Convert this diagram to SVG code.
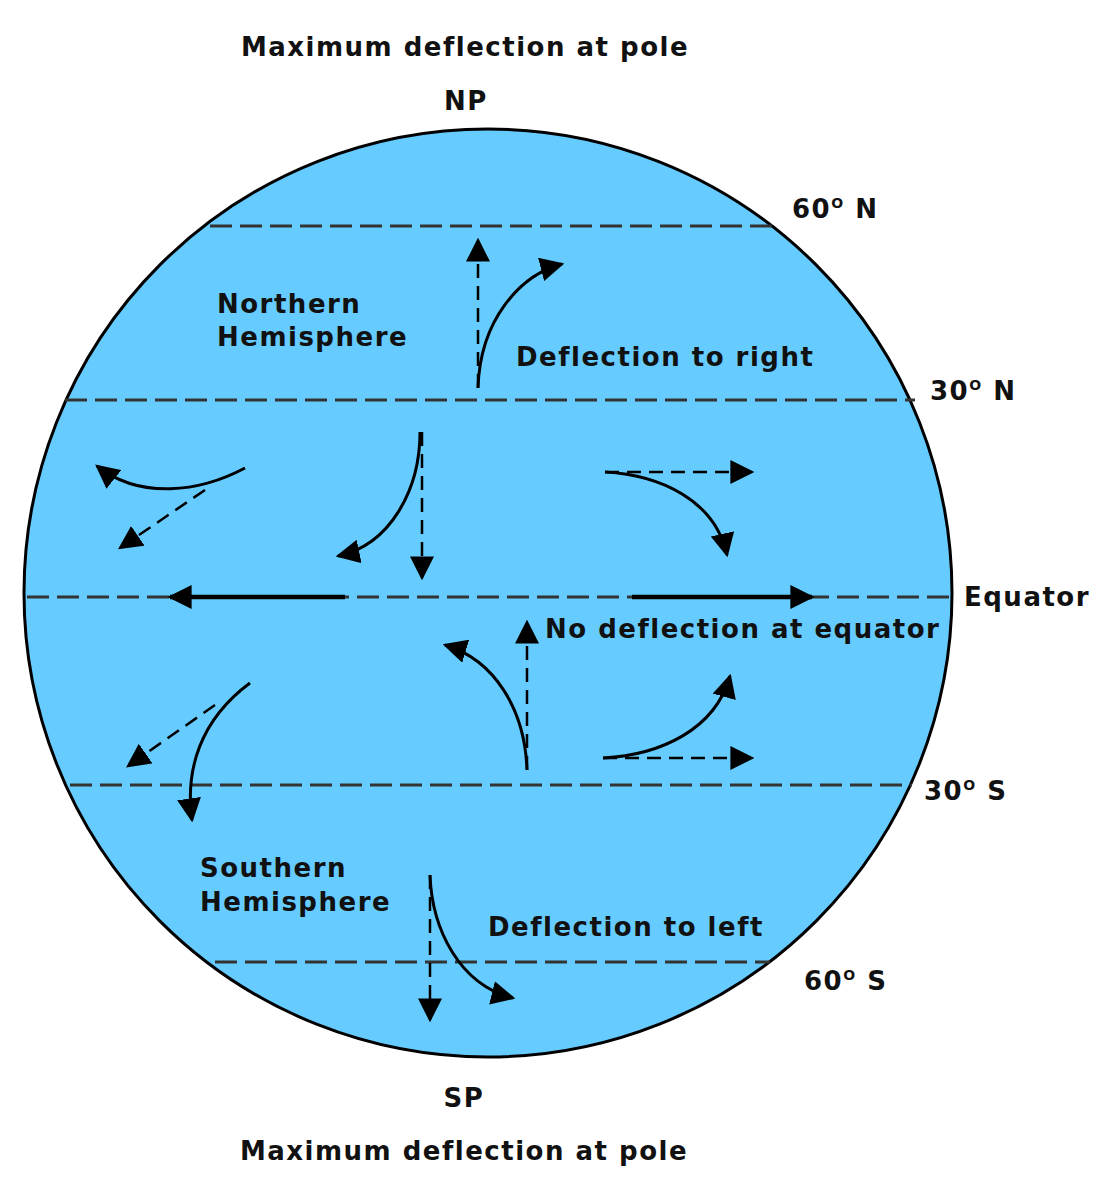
<svg xmlns="http://www.w3.org/2000/svg" width="1118" height="1200" viewBox="0 0 1118 1200">
<style>
text{font-family:"DejaVu Sans",Verdana,sans-serif;font-weight:bold;font-size:26px;letter-spacing:1.5px;fill:#111}
.lat{stroke:#333;stroke-width:3;stroke-dasharray:22,8}
.s{fill:none;stroke:#000;stroke-width:3}
.d{fill:none;stroke:#000;stroke-width:2.5;stroke-dasharray:14,8}
.t{fill:none;stroke:#000;stroke-width:4.5}
</style>
<defs>
<marker id="b" viewBox="0 0 10 10" refX="9" refY="5" markerWidth="24" markerHeight="24" markerUnits="userSpaceOnUse" orient="auto">
<path d="M0,0L10,5L0,10z" fill="#000"/></marker>
</defs>
<rect width="1118" height="1200" fill="#fff"/>
<g id="globe">
<circle cx="488" cy="593" r="464" fill="#66ccff" stroke="#000" stroke-width="3"/>
<line class="lat" x1="210" y1="226" x2="775" y2="226"/>
<line class="lat" x1="65" y1="400" x2="915" y2="400"/>
<line class="lat" x1="27" y1="597" x2="950" y2="597"/>
<line class="lat" x1="70" y1="785" x2="912" y2="785"/>
<line class="lat" x1="215" y1="962" x2="770" y2="962"/>
</g>
<g id="connectors">
<path class="d" d="M478,388V240" marker-end="url(#b)"/>
<path class="s" d="M478,388C480,320 520,275 562,264" marker-end="url(#b)"/>
<path class="s" d="M245,468C200,492 140,500 97,466" marker-end="url(#b)"/>
<path class="d" d="M205,490L120,548" marker-end="url(#b)"/>
<path class="d" d="M422,432V578" marker-end="url(#b)"/>
<path class="s" d="M420,432C420,490 390,545 338,556" marker-end="url(#b)"/>
<path class="d" d="M605,472H752" marker-end="url(#b)"/>
<path class="s" d="M605,472C660,475 715,500 727,555" marker-end="url(#b)"/>
<path class="t" d="M345,597H170" marker-end="url(#b)"/>
<path class="t" d="M632,597H812" marker-end="url(#b)"/>
<path class="d" d="M527,770V622" marker-end="url(#b)"/>
<path class="s" d="M527,770C525,710 495,660 445,645" marker-end="url(#b)"/>
<path class="d" d="M215,705L128,766" marker-end="url(#b)"/>
<path class="s" d="M250,683C200,720 185,770 192,820" marker-end="url(#b)"/>
<path class="d" d="M603,758H752" marker-end="url(#b)"/>
<path class="s" d="M603,758C660,755 715,730 730,676" marker-end="url(#b)"/>
<path class="d" d="M430,875V1020" marker-end="url(#b)"/>
<path class="s" d="M430,875C432,930 460,985 513,998" marker-end="url(#b)"/>
</g>
<g id="labels">
<text x="465" y="56" text-anchor="middle">Maximum deflection at pole</text>
<text x="466" y="110" text-anchor="middle">NP</text>
<text x="792" y="218">60<tspan font-size="14" dy="-10">O</tspan><tspan dy="10"> N</tspan></text>
<text x="217" y="313">Northern</text>
<text x="217" y="346">Hemisphere</text>
<text x="516" y="366">Deflection to right</text>
<text x="930" y="400">30<tspan font-size="14" dy="-10">O</tspan><tspan dy="10"> N</tspan></text>
<text x="964" y="606">Equator</text>
<text x="545" y="638">No deflection at equator</text>
<text x="924" y="800">30<tspan font-size="14" dy="-10">O</tspan><tspan dy="10"> S</tspan></text>
<text x="200" y="877">Southern</text>
<text x="200" y="911">Hemisphere</text>
<text x="488" y="936">Deflection to left</text>
<text x="804" y="990">60<tspan font-size="14" dy="-10">O</tspan><tspan dy="10"> S</tspan></text>
<text x="464" y="1107" text-anchor="middle">SP</text>
<text x="464" y="1160" text-anchor="middle">Maximum deflection at pole</text>
</g>
</svg>
